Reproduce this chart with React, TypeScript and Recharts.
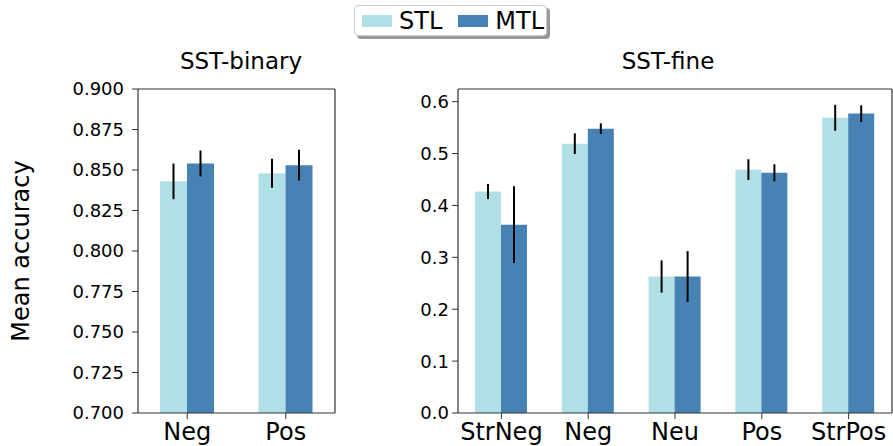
import React from 'react';
import { BarChart, Bar, XAxis, YAxis, ErrorBar } from 'recharts';

const seriesNames = ['STL', 'MTL'];
const seriesColors = ['#b0e0e6', '#4682b4'];

const binaryCategories = ['Neg', 'Pos'];
const binarySTL = [0.843, 0.848];
const binarySTLErr = [0.011, 0.009];
const binaryMTL = [0.854, 0.853];
const binaryMTLErr = [0.008, 0.0095];
const binaryTicks = [0.7, 0.725, 0.75, 0.775, 0.8, 0.825, 0.85, 0.875, 0.9];

const fineCategories = ['StrNeg', 'Neg', 'Neu', 'Pos', 'StrPos'];
const fineSTL = [0.427, 0.519, 0.263, 0.469, 0.569];
const fineSTLErr = [0.0145, 0.02, 0.031, 0.02, 0.025];
const fineMTL = [0.363, 0.548, 0.263, 0.463, 0.577];
const fineMTLErr = [0.074, 0.0103, 0.049, 0.0163, 0.016];
const fineTicks = [0, 0.1, 0.2, 0.3, 0.4, 0.5, 0.6];

const FONT = '"DejaVu Sans", sans-serif';
const SPINE = '#333';

const binaryData = binaryCategories.map((cat, i) => ({
  cat,
  stl: binarySTL[i],
  stlErr: binarySTLErr[i],
  mtl: binaryMTL[i],
  mtlErr: binaryMTLErr[i],
}));

const fineData = fineCategories.map((cat, i) => ({
  cat,
  stl: fineSTL[i],
  stlErr: fineSTLErr[i],
  mtl: fineMTL[i],
  mtlErr: fineMTLErr[i],
}));

interface PanelProps {
  data: typeof binaryData;
  width: number;
  yWidth: number;
  domain: [number, number];
  ticks: number[];
  digits: number;
  barSize: number;
  tickMargin: number;
}

function Panel({ data, width, yWidth, domain, ticks, digits, barSize, tickMargin }: PanelProps) {
  return (
    <BarChart
      width={width}
      height={446}
      data={data}
      margin={{ top: 88, right: 0, bottom: 0, left: 0 }}
      barGap={0}
      barSize={barSize}
    >
      <XAxis
        dataKey="cat"
        height={33}
        tickSize={6}
        tickMargin={4}
        axisLine={{ stroke: SPINE, strokeWidth: 1.2 }}
        tickLine={{ stroke: SPINE }}
        tick={{ fill: '#000', fontSize: 24, fontFamily: FONT }}
      />
      {/* top and right spines */}
      <XAxis
        xAxisId="top"
        dataKey="cat"
        orientation="top"
        height={1}
        tick={false}
        tickLine={false}
        axisLine={{ stroke: SPINE, strokeWidth: 1.2 }}
      />
      <YAxis
        width={yWidth}
        domain={domain}
        ticks={ticks}
        allowDataOverflow
        interval={0}
        tickSize={6}
        tickMargin={tickMargin}
        tickFormatter={(v: number) => v.toFixed(digits)}
        axisLine={{ stroke: SPINE, strokeWidth: 1.2 }}
        tickLine={{ stroke: SPINE }}
        tick={{ fill: '#000', fontSize: 18, fontFamily: FONT }}
      />
      <YAxis
        yAxisId="right"
        orientation="right"
        type="number"
        width={1}
        domain={domain}
        allowDataOverflow
        tick={false}
        tickLine={false}
        axisLine={{ stroke: SPINE, strokeWidth: 1.2 }}
      />
      <Bar dataKey="stl" fill={seriesColors[0]} isAnimationActive={false}>
        <ErrorBar dataKey="stlErr" width={0} stroke="#000" strokeWidth={2} direction="y" />
      </Bar>
      <Bar dataKey="mtl" fill={seriesColors[1]} isAnimationActive={false}>
        <ErrorBar dataKey="mtlErr" width={0} stroke="#000" strokeWidth={2} direction="y" />
      </Bar>
    </BarChart>
  );
}

const titleStyle: React.CSSProperties = {
  position: 'absolute',
  top: 48,
  width: 200,
  textAlign: 'center',
  fontSize: 23,
  fontFamily: FONT,
  color: '#000',
};

export default function App() {
  return (
    <div style={{ position: 'absolute', left: 0, top: 0, width: 893, height: 446, background: '#fff', overflow: 'hidden', fontFamily: FONT }}>
      <div style={{ position: 'absolute', left: 0, top: 0 }}>
        <Panel data={binaryData} width={336} yWidth={138} domain={[0.7, 0.9]} ticks={binaryTicks} digits={3} barSize={27} tickMargin={8} />
      </div>
      <div style={{ position: 'absolute', left: 400, top: 0 }}>
        <Panel data={fineData} width={493} yWidth={58} domain={[0, 0.6244]} ticks={fineTicks} digits={1} barSize={26} tickMargin={3} />
      </div>
      <div style={{ ...titleStyle, left: 241 - 100 }}>SST-binary</div>
      <div style={{ ...titleStyle, left: 668 - 100 }}>SST-fine</div>
      <div
        style={{
          position: 'absolute',
          left: 21 - 120,
          top: 251 - 15,
          width: 240,
          height: 30,
          lineHeight: '30px',
          textAlign: 'center',
          fontSize: 24,
          transform: 'rotate(-90deg)',
          color: '#000',
        }}
      >
        Mean accuracy
      </div>
      <div
        style={{
          position: 'absolute',
          left: 354,
          top: 5,
          width: 193,
          height: 31,
          border: '1px solid #ccc',
          borderRadius: 4,
          boxShadow: '3px 3px 0 #999',
          background: '#fff',
          display: 'flex',
          alignItems: 'center',
          paddingLeft: 7,
          boxSizing: 'border-box',
        }}
      >
        {seriesNames.map((name, i) => (
          <div key={name} style={{ display: 'flex', alignItems: 'center', marginRight: i === 0 ? 16 : 0 }}>
            <span style={{ display: 'inline-block', width: 30, height: 12, background: seriesColors[i], marginRight: 7 }} />
            <span style={{ fontSize: 24, lineHeight: '28px', color: '#000' }}>{name}</span>
          </div>
        ))}
      </div>
    </div>
  );
}
